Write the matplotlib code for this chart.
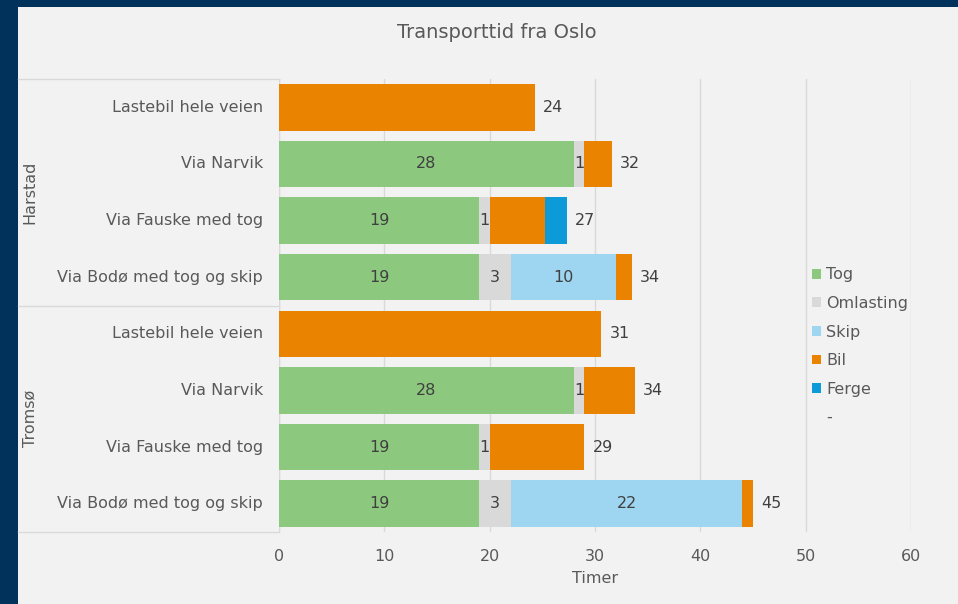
import numpy as np
import matplotlib
matplotlib.use("Agg")
import matplotlib.pyplot as plt
from matplotlib.patches import Patch

plt.rcParams["font.family"] = ["DejaVu Sans"]

routes = ["Lastebil hele veien", "Via Narvik", "Via Fauske med tog", "Via Bodø med tog og skip",
          "Lastebil hele veien", "Via Narvik", "Via Fauske med tog", "Via Bodø med tog og skip"]
groups = ["Harstad", "Tromsø"]

tog = [0, 28, 19, 19, 0, 28, 19, 19]
omlasting = [0, 1, 1, 3, 0, 1, 1, 3]
skip = [0, 0, 0, 10, 0, 0, 0, 22]
bil = [24.3, 2.6, 5.3, 1.5, 30.6, 4.8, 9.0, 1.0]
ferge = [0, 0, 2.0, 0, 0, 0, 0, 0]
totals = [24, 32, 27, 34, 31, 34, 29, 45]

series = [("Tog", tog, "#8cc97e", True),
          ("Omlasting", omlasting, "#d9d9d9", True),
          ("Skip", skip, "#9ed5f0", True),
          ("Bil", bil, "#e98300", False),
          ("Ferge", ferge, "#0c9ad8", False)]

BG = "#f2f2f2"
NAVY = "#01325b"
TXT = "#595959"
FS = 11.5
W, H = 958, 604

fig = plt.figure(figsize=(W / 100, H / 100), dpi=100, facecolor=NAVY)
fig.patches.append(plt.Rectangle((18 / W, 0), 1, 1 - 7 / H, transform=fig.transFigure,
                                 facecolor=BG, edgecolor="none", zorder=-10))

x0, x1 = 279, 911
ytop, ybot = 79, 532
ax = fig.add_axes([x0 / W, 1 - ybot / H, (x1 - x0) / W, (ybot - ytop) / H])
ax.set_facecolor("none")
px = 60 / (x1 - x0)  # data units per pixel

y = np.arange(len(routes))
left = np.zeros(len(routes))
for name, vals, col, show in series:
    vals = np.array(vals, dtype=float)
    ax.barh(y, vals, left=left, height=0.82, color=col, zorder=3, label=name)
    if show:
        for yi, v, l in zip(y, vals, left):
            if v > 0:
                ax.text(l + v / 2, yi, f"{v:.0f}", ha="center", va="center",
                        fontsize=FS, color="#404040", zorder=4)
    left += vals

for yi, l, t in zip(y, left, totals):
    ax.text(l + 8 * px, yi, str(t), ha="left", va="center", fontsize=FS, color="#404040")

ax.set_xlim(0, 60)
ax.set_ylim(len(routes) - 0.5, -0.5)
ax.set_xticks(range(0, 61, 10))
ax.grid(axis="x", color="#d9d9d9", lw=1, zorder=0)
ax.tick_params(axis="x", length=0, labelsize=FS, labelcolor=TXT, pad=12)
ax.set_yticks([])
for s in ax.spines.values():
    s.set_visible(False)
ax.set_xlabel("Timer", fontsize=FS, color=TXT, labelpad=5)
ax.axvline(0, color="#d9d9d9", lw=1, zorder=1)

# category labels
for yi, r in zip(y, routes):
    ax.text(-16 * px, yi, r, ha="right", va="center", fontsize=FS, color=TXT)

# group labels and separators
for gi, g in enumerate(groups):
    ax.text(-249 * px, gi * 4 + 1.5, g, rotation=90, ha="center", va="center",
            fontsize=FS, color=TXT)
for yb in [-0.5, 3.5, 7.5]:
    ax.plot([-261 * px, 0], [yb, yb], color="#d9d9d9", lw=1, clip_on=False)

fig.text(497 / W, 1 - 32 / H, "Transporttid fra Oslo", ha="center", va="center",
         fontsize=14, color=TXT)

handles = [Patch(facecolor=c, edgecolor="none") for _, _, c, _ in series]
labels = [n for n, _, _, _ in series]
handles.append(Patch(facecolor="none", edgecolor="none"))
labels.append("-")
ax.legend(handles, labels, loc="upper left", bbox_to_anchor=(798 / W, 1 - 253 / H),
          bbox_transform=fig.transFigure, frameon=False, fontsize=FS,
          handlelength=0.55, handleheight=0.55, handletextpad=0.3, labelspacing=0.85,
          labelcolor=TXT)

fig.savefig("out.png", dpi=100, facecolor=NAVY)
